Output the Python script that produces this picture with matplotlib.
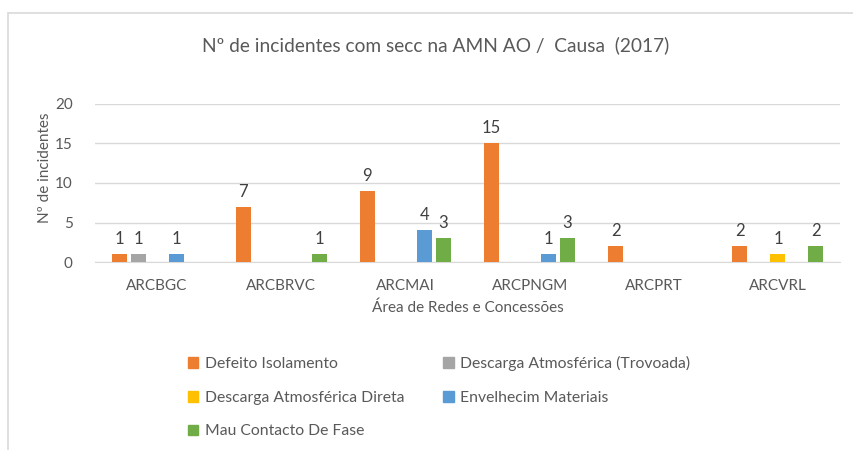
import numpy as np
import matplotlib.pyplot as plt
from matplotlib.patches import Rectangle, Patch

# Dados
areas = ["ARCBGC", "ARCBRVC", "ARCMAI", "ARCPNGM", "ARCPRT", "ARCVRL"]
causas = [
    "Defeito Isolamento",
    "Descarga Atmosférica (Trovoada)",
    "Descarga Atmosférica Direta",
    "Envelhecim Materiais",
    "Mau Contacto De Fase",
]
nan = np.nan
defeito_isolamento = [1, 7, 9, 15, 2, 2]
descarga_trovoada = [1, nan, nan, nan, nan, nan]
descarga_direta = [nan, nan, nan, nan, nan, 1]
envelhecim_materiais = [1, nan, 4, 1, nan, nan]
mau_contacto = [nan, 1, 3, 3, nan, 2]
series = [defeito_isolamento, descarga_trovoada, descarga_direta,
          envelhecim_materiais, mau_contacto]
cores = ["#ED7D31", "#A5A5A5", "#FFC000", "#5B9BD5", "#70AD47"]

TXT = "#595959"
plt.rcParams["font.family"] = ["Lato", "DejaVu Sans"]

W, H = 854, 450
fig = plt.figure(figsize=(W / 100, H / 100), dpi=100)

# Moldura do gráfico
fig.patches.append(Rectangle((8 / W, -0.1), 1.2, (H - 13) / H + 0.1,
                             transform=fig.transFigure, fill=False,
                             edgecolor="#D9D9D9", lw=1.2))

ax = fig.add_axes([95 / W, (H - 262) / H, 745 / W, 158 / H])
x = np.arange(len(areas))
passo = 0.153
largura = 0.12
for k, (vals, cor) in enumerate(zip(series, cores)):
    pos = x + (k - 2) * passo
    v = np.array(vals, dtype=float)
    ax.bar(pos, v, largura, color=cor, zorder=3)
    for xi, vi in zip(pos, v):
        if not np.isnan(vi):
            ax.text(xi, vi + 0.9, f"{int(vi)}", ha="center", va="bottom",
                    fontsize=12, color="#404040")

ax.set_xlim(-0.5, len(areas) - 0.5)
ax.set_ylim(0, 20)
ax.set_yticks([0, 5, 10, 15, 20])
ax.set_xticks(x)
ax.set_xticklabels(areas)
ax.tick_params(axis="both", length=0, labelsize=11, colors=TXT)
ax.tick_params(axis="y", pad=16)
ax.tick_params(axis="x", pad=12)
ax.grid(axis="y", color="#D9D9D9", lw=1, zorder=0)
for s in ["top", "right", "left"]:
    ax.spines[s].set_visible(False)
ax.spines["bottom"].set_color("#D9D9D9")
ax.set_xlabel("Área de Redes e Concessões", fontsize=11, color=TXT, labelpad=6)

fig.text(45 / W, 1 - 168 / H, "Nº de incidentes", rotation=90, ha="center",
         va="center", fontsize=11, color=TXT)
fig.text(436 / W, 1 - 45 / H, "Nº de incidentes com secc na AMN AO /  Causa  (2017)",
         ha="center", va="center", fontsize=13.8, color=TXT)

# Legenda (ordem por linhas, como no original)
handles = [Patch(color=c, label=l) for c, l in zip(cores, causas)]
ordem = [0, 2, 4, 1, 3]
leg = fig.legend([handles[i] for i in ordem], [causas[i] for i in ordem],
                 ncol=2, loc="upper left", bbox_to_anchor=(174 / W, 1 - 342 / H),
                 frameon=False, fontsize=11.3, labelcolor=TXT,
                 handlelength=0.65, handleheight=0.65, handletextpad=0.4,
                 columnspacing=2.5, labelspacing=1.25)

fig.savefig("out.png", dpi=100, facecolor="white")
